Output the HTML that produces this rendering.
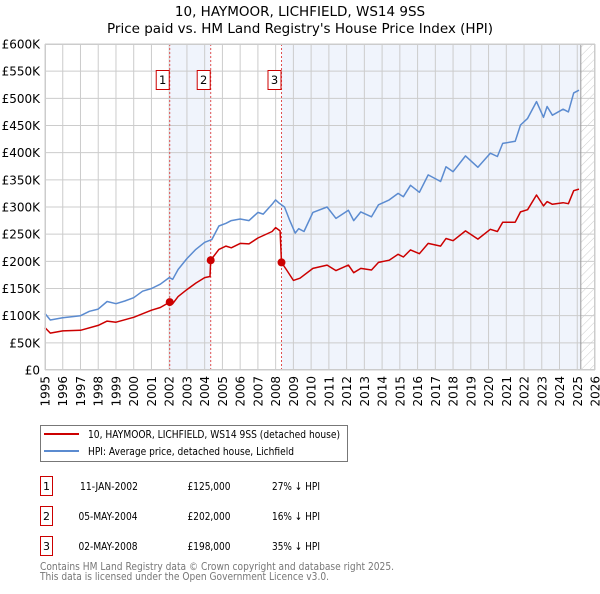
<!DOCTYPE html>
<html><head><meta charset="utf-8"><style>
body{margin:0;background:#fff;font-family:"DejaVu Sans","Liberation Sans",sans-serif;}
svg text{font-family:"DejaVu Sans","Liberation Sans",sans-serif;}
</style></head><body>
<svg id="c" width="600" height="590" xmlns="http://www.w3.org/2000/svg">
<defs><pattern id="hatch" width="6" height="6" patternUnits="userSpaceOnUse" patternTransform="rotate(45)"><line x1="0" y1="0" x2="0" y2="6" stroke="#ccc" stroke-width="1"/></pattern></defs>
<text x="300" y="16" text-anchor="middle" font-size="13.5">10, HAYMOOR, LICHFIELD, WS14 9SS</text>
<text x="300" y="33" text-anchor="middle" font-size="13.5">Price paid vs. HM Land Registry's House Price Index (HPI)</text>
<g id="plot"></g>
<g font-size="11">
<rect x="40.5" y="425.5" width="307" height="36" fill="#fff" stroke="#777"/>
<line x1="44" y1="434" x2="79" y2="434" stroke="#cc0000" stroke-width="2"/>
<text x="88" y="438" textLength="252" lengthAdjust="spacingAndGlyphs">10, HAYMOOR, LICHFIELD, WS14 9SS (detached house)</text>
<line x1="44" y1="451" x2="79" y2="451" stroke="#5b8bd0" stroke-width="2"/>
<text x="88" y="455" textLength="206" lengthAdjust="spacingAndGlyphs">HPI: Average price, detached house, Lichfield</text>
</g>
<g font-size="11">
<rect x="40.5" y="476.5" width="12" height="19" fill="#fff" stroke="#cc0000"/><text x="46.5" y="490" text-anchor="middle">1</text>
<text x="80" y="490" textLength="58" lengthAdjust="spacingAndGlyphs">11-JAN-2002</text><text x="187.5" y="490" textLength="43" lengthAdjust="spacingAndGlyphs">£125,000</text><text x="272" y="490" textLength="48" lengthAdjust="spacingAndGlyphs">27% ↓ HPI</text>
<rect x="40.5" y="506.5" width="12" height="19" fill="#fff" stroke="#cc0000"/><text x="46.5" y="520" text-anchor="middle">2</text>
<text x="78.5" y="520" textLength="59" lengthAdjust="spacingAndGlyphs">05-MAY-2004</text><text x="187.5" y="520" textLength="43" lengthAdjust="spacingAndGlyphs">£202,000</text><text x="272" y="520" textLength="48" lengthAdjust="spacingAndGlyphs">16% ↓ HPI</text>
<rect x="40.5" y="536.5" width="12" height="19" fill="#fff" stroke="#cc0000"/><text x="46.5" y="550" text-anchor="middle">3</text>
<text x="78.5" y="550" textLength="59" lengthAdjust="spacingAndGlyphs">02-MAY-2008</text><text x="187.5" y="550" textLength="43" lengthAdjust="spacingAndGlyphs">£198,000</text><text x="272" y="550" textLength="48" lengthAdjust="spacingAndGlyphs">35% ↓ HPI</text>
</g>
<text x="40" y="570" font-size="11" fill="#777" textLength="354" lengthAdjust="spacingAndGlyphs">Contains HM Land Registry data © Crown copyright and database right 2025.</text>
<text x="40" y="580" font-size="11" fill="#777" textLength="289" lengthAdjust="spacingAndGlyphs">This data is licensed under the Open Government Licence v3.0.</text>
</svg>
<script>
const hpiYears=[1995,1995.3,1996,1997,1997.5,1998,1998.5,1999,1999.5,2000,2000.5,2001,2001.5,2002,2002.2,2002.5,2003,2003.5,2004,2004.4,2004.8,2005.2,2005.5,2006,2006.5,2007,2007.3,2007.8,2008,2008.2,2008.5,2008.8,2009.1,2009.3,2009.6,2010.1,2010.9,2011.4,2012.1,2012.4,2012.8,2013.4,2013.8,2014.4,2014.9,2015.2,2015.6,2016.1,2016.6,2017.3,2017.6,2018.0,2018.7,2019.4,2020.1,2020.5,2020.8,2021.5,2021.8,2022.2,2022.7,2023.1,2023.3,2023.6,2024.2,2024.5,2024.8,2025.1];
const hpiValues=[104,92,96,100,108,112,126,122,127,133,145,150,158,170,167,185,205,222,235,240,265,270,275,278,275,290,287,305,313,307,300,275,252,260,255,290,300,279,294,275,291,282,304,313,325,319,340,327,359,347,374,365,394,373,399,393,417,421,451,463,494,465,485,469,480,475,510,515];
const ppYears=[1995,1995.3,1996,1997,1998,1998.5,1999,2000,2001,2001.5,2002.03,2002.2,2002.5,2003,2003.5,2004,2004.3,2004.34,2004.8,2005.2,2005.5,2006,2006.5,2007,2007.8,2008,2008.25,2008.33,2008.6,2009.0,2009.37,2010.1,2010.9,2011.4,2012.1,2012.4,2012.8,2013.4,2013.8,2014.4,2014.9,2015.2,2015.6,2016.1,2016.6,2017.3,2017.6,2018.0,2018.7,2019.4,2020.1,2020.5,2020.8,2021.5,2021.8,2022.2,2022.7,2023.1,2023.3,2023.6,2024.2,2024.5,2024.8,2025.1];
const ppValues=[78,68,72,73,82,90,88,97,110,115,125,122,135,148,160,170,172,202,222,228,225,233,232,243,255,262,256,198,185,165,169,187,193,183,193,179,187,184,198,202,213,208,221,214,233,228,242,238,256,241,259,255,272,272,291,295,322,302,310,305,308,306,330,333];
const saleYears=[2002.03,2004.34,2008.33];
const saleValues=[125,202,198];
const saleLabels=["1","2","3"];
const yTicks=[0,50,100,150,200,250,300,350,400,450,500,550,600];
const yTickLabels=["£0","£50K","£100K","£150K","£200K","£250K","£300K","£350K","£400K","£450K","£500K","£550K","£600K"];
const xTicks=[1995,1996,1997,1998,1999,2000,2001,2002,2003,2004,2005,2006,2007,2008,2009,2010,2011,2012,2013,2014,2015,2016,2017,2018,2019,2020,2021,2022,2023,2024,2025,2026];
const dataEnd=2025.2;

const X0=45,X1=595,Y0=370,Y1=44;
const x=v=>X0+(v-1995)/(2026-1995)*(X1-X0);
const y=v=>Y0-v/600*(Y0-Y1);
const NS="http://www.w3.org/2000/svg";
const g=document.getElementById('plot');
function mk(t,a){const e=document.createElementNS(NS,t);for(const k in a)e.setAttribute(k,a[k]);g.appendChild(e);return e;}
let e;
e=mk('rect',{x:X0,y:Y1,width:X1-X0,height:Y0-Y1,fill:'#fff'});


e=mk('rect',{x:x(saleYears[0]),y:Y1,width:x(saleYears[1])-x(saleYears[0]),height:Y0-Y1,fill:'#f0f4fc'});


e=mk('rect',{x:x(saleYears[2]),y:Y1,width:x(dataEnd)-x(saleYears[2]),height:Y0-Y1,fill:'#f0f4fc'});


e=mk('rect',{x:x(dataEnd),y:Y1,width:X1-x(dataEnd),height:Y0-Y1,fill:'url(#hatch)'});


yTicks.forEach((t,i)=>{
 e=mk('line',{x1:X0,x2:X1,y1:y(t),y2:y(t),stroke:'#ccc','stroke-width':1});
 
 
 e=mk('text',{x:40,y:y(t)+4.5,'text-anchor':'end','font-size':12});
 e.textContent=yTickLabels[i];
 
 
});
xTicks.forEach(t=>{
 e=mk('line',{x1:x(t),x2:x(t),y1:Y1,y2:Y0,stroke:'#ccc','stroke-width':1});
 
 
 e=mk('text',{x:0,y:0,'text-anchor':'end','font-size':12,transform:`translate(${x(t)+4.5},376) rotate(-90)`});
 e.textContent=t;
 
 
});
e=mk('line',{x1:x(dataEnd),x2:x(dataEnd),y1:Y1,y2:Y0,stroke:'#999','stroke-width':1});


saleYears.forEach((s,i)=>{
 e=mk('line',{x1:x(s),x2:x(s),y1:Y1,y2:Y0,stroke:'#e05050','stroke-width':1,'stroke-dasharray':'2,2'});
 
 
 e=mk('rect',{x:x(s)-13.5,y:70.5,width:13,height:19,fill:'#fff',stroke:'#cc0000'});
 
 
 e=mk('text',{x:x(s)-7,y:84,'text-anchor':'middle','font-size':11.5});
 e.textContent=saleLabels[i];
 
 
});
function path(xs,vs,c,n){
 const d=xs.map((t,i)=>(i?'L':'M')+x(t).toFixed(1)+','+y(vs[i]).toFixed(1)).join('');
 e=mk('path',{d:d,fill:'none',stroke:c,'stroke-width':1.5,'stroke-linejoin':'round'});
 
 
}
path(hpiYears,hpiValues,'#5b8bd0','hpi-line');
path(ppYears,ppValues,'#cc0000','price-paid-line');
saleYears.forEach((s,i)=>{
 e=mk('circle',{cx:x(s),cy:y(saleValues[i]),r:4,fill:'#cc0000'});
 
 
});
e=mk('rect',{x:X0+0.5,y:Y1+0.5,width:X1-X0-1,height:Y0-Y1-1,fill:'none',stroke:'#ccc'});


</script>
</body></html>
